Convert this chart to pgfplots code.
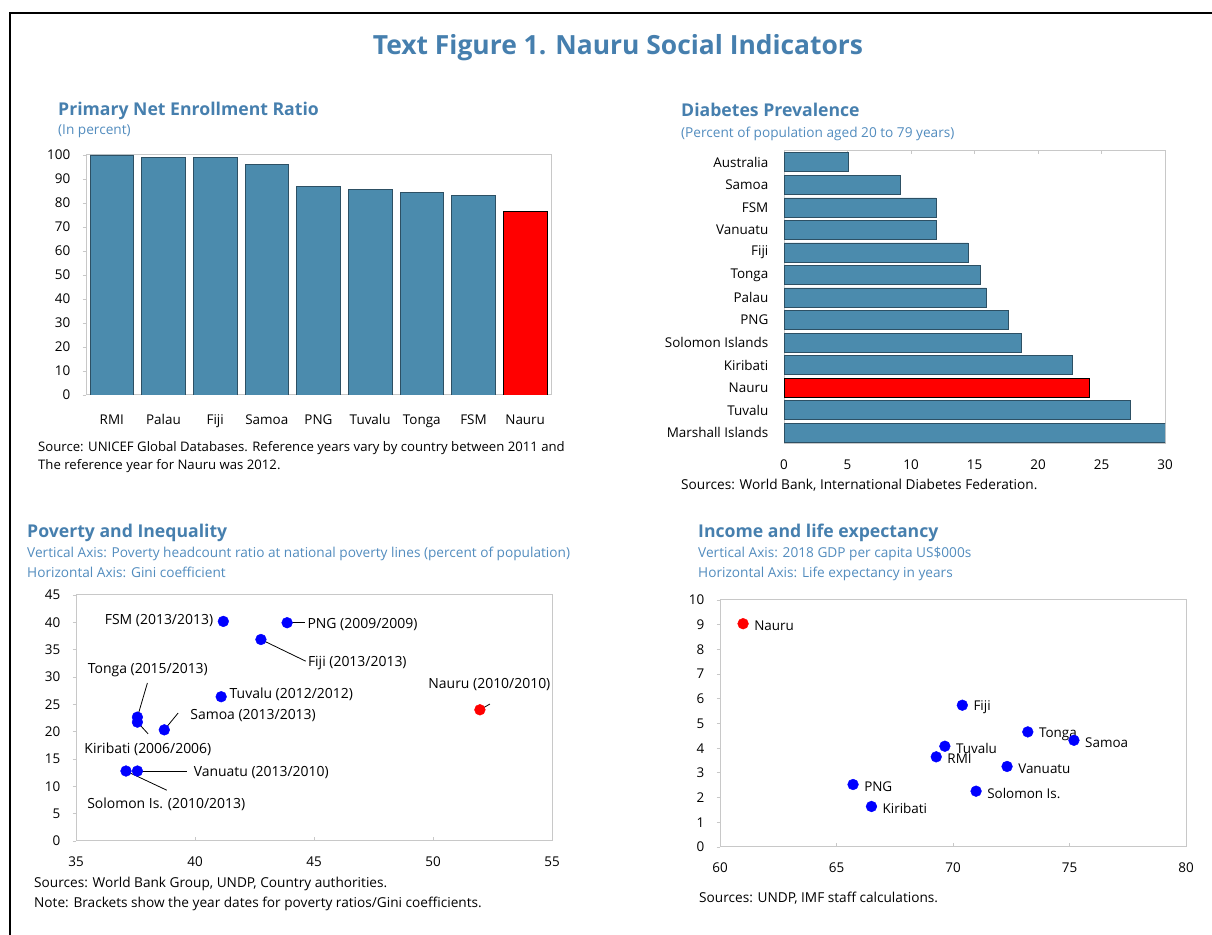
\documentclass[border=0pt]{standalone}
\usepackage{fontspec}
\setmainfont{Open Sans}
\usepackage{pgfplots}
\pgfplotsset{compat=1.18}
\definecolor{barblue}{RGB}{75,139,173}
\definecolor{baredge}{RGB}{45,80,100}
\definecolor{titleblue}{RGB}{70,127,174}
\definecolor{subblue}{RGB}{82,140,190}
\definecolor{framegray}{RGB}{200,200,200}
\newcommand{\ticf}{\fontsize{13.5}{15}\selectfont}
\newcommand{\labf}{\fontsize{14}{16}\selectfont}
\newcommand{\txtf}{\fontsize{13.7}{16}\selectfont}
\newcommand{\srcf}{\fontsize{13.2}{15}\selectfont}
\newcommand{\ptitle}{\fontsize{17.7}{20}\selectfont\bfseries\color{titleblue}}
\pgfplotsset{
  panel/.style={
    scale only axis, anchor=south west,
    axis line style={draw=framegray, line width=1bp},
    tick style={draw=framegray, line width=0.8bp},
    major tick length=3.5bp,
    tick align=outside,
    ytick pos=left,
    tick label style={font=\ticf, inner sep=0pt, text=black},
    yticklabel style={anchor=east, xshift=-12bp},
    xticklabel style={anchor=base, yshift=-26bp},
    /pgf/number format/assume math mode=true,
  }
}
\begin{document}
\begin{tikzpicture}[x=1bp,y=1bp]
\useasboundingbox (0,0) rectangle (1212,935);
\draw[line width=2.2bp] (10,0) -- (10,922) -- (1212,922);
\node[anchor=base, inner sep=0pt, font=\fontsize{26.5}{30}\selectfont\bfseries, text=titleblue] at (618,880) {Text Figure 1. Nauru Social Indicators};

% ---------- Panel 1 ----------
\node[anchor=base west, inner sep=0pt, font=\ptitle] at (58,819) {Primary Net Enrollment Ratio};
\node[anchor=base west, inner sep=0pt, font=\txtf, text=subblue] at (58,800) {(In percent)};
\begin{axis}[panel, at={(86bp,540bp)}, width=465bp, height=240bp,
  xmin=-0.5, xmax=8.5, ymin=0, ymax=100,
  ytick={0,10,...,100},
  xtick={0,...,8}, xticklabels={RMI,Palau,Fiji,Samoa,PNG,Tuvalu,Tonga,FSM,Nauru},
  xtick style={draw=none},
  ybar, bar width=43.5bp, bar shift=0pt]
\addplot[fill=barblue, draw=baredge, line width=0.6bp] coordinates {(0,100)(1,98.9)(2,98.9)(3,96.1)(4,86.9)(5,85.5)(6,84.5)(7,83.2)};
\addplot[fill=red, draw=black, line width=0.6bp] coordinates {(8,76.6)};
\end{axis}
\node[anchor=base west, inner sep=0pt, font=\srcf] at (38,483) {Source: UNICEF Global Databases. Reference years vary by country between 2011 and};
\node[anchor=base west, inner sep=0pt, font=\srcf] at (38,465) {The reference year for Nauru was 2012.};

% ---------- Panel 2 ----------
\node[anchor=base west, inner sep=0pt, font=\ptitle] at (681,818) {Diabetes Prevalence};
\node[anchor=base west, inner sep=0pt, font=\txtf, text=subblue] at (681,797) {(Percent of population aged 20 to 79 years)};
\begin{axis}[panel, at={(784bp,491bp)}, width=381bp, height=293bp,
  xmin=0, xmax=30, ymin=-0.5, ymax=12.5, y dir=reverse,
  ytick={0,...,12},
  yticklabels={Australia,Samoa,FSM,Vanuatu,Fiji,Tonga,Palau,PNG,Solomon Islands,Kiribati,Nauru,Tuvalu,Marshall Islands},
  ytick style={draw=none},
  xtick={0,5,...,30}, xtick pos=upper, xticklabel pos=lower, xtick align=inside,
  xbar, bar width=19bp, bar shift=0pt]
\addplot[fill=barblue, draw=baredge, line width=0.6bp] coordinates {(5.06,0)(9.18,1)(11.97,2)(11.97,3)(14.49,4)(15.44,5)(15.93,6)(17.65,7)(18.67,8)(22.69,9)(27.26,11)(30.5,12)};
\addplot[fill=red, draw=black, line width=0.6bp] coordinates {(24.07,10)};
\end{axis}
\node[anchor=base west, inner sep=0pt, font=\txtf] at (681,445) {Sources: World Bank, International Diabetes Federation.};

% ---------- Panel 3 ----------
\node[anchor=base west, inner sep=0pt, font=\ptitle] at (27,397) {Poverty and Inequality};
\node[anchor=base west, inner sep=0pt, font=\txtf, text=subblue] at (27,377) {Vertical Axis: Poverty headcount ratio at national poverty lines (percent of population)};
\node[anchor=base west, inner sep=0pt, font=\txtf, text=subblue] at (27,357) {Horizontal Axis: Gini coefficient};
\begin{axis}[panel, at={(76bp,94bp)}, width=476bp, height=246bp,
  xmin=35, xmax=55, ymin=0, ymax=45,
  xtick={35,40,...,55}, ytick={0,5,...,45}, xtick pos=lower, xtick align=inside, clip=false]
\addplot[only marks, mark=*, mark size=5.4bp, mark options={fill=blue, draw=blue}] coordinates {
  (41.19,40.17) (43.87,39.93) (42.77,36.86) (41.10,26.39) (38.71,20.33)
  (37.58,22.66) (37.58,21.74) (37.58,12.80) (37.10,12.80)};
\addplot[only marks, mark=*, mark size=5.4bp, mark options={fill=red, draw=red}] coordinates {(51.97,24.0)};
\begin{scope}[every node/.style={inner sep=0pt, font=\labf}]
\draw[line width=0.8bp] (axis cs:43.87,39.93) -- (axis cs:44.62,39.93);
\draw[line width=0.8bp] (axis cs:42.77,36.86) -- (axis cs:44.65,32.9);
\draw[line width=0.8bp] (axis cs:38.71,20.33) -- (axis cs:39.29,23.4);
\draw[line width=0.8bp] (axis cs:37.58,22.66) -- (axis cs:38.0,28.9);
\draw[line width=0.8bp] (axis cs:37.58,21.74) -- (axis cs:38.03,19.6);
\draw[line width=0.8bp] (axis cs:37.58,12.80) -- (axis cs:39.68,12.80);
\draw[line width=0.8bp] (axis cs:37.10,12.80) -- (axis cs:38.81,9.3);
\draw[line width=0.8bp] (axis cs:51.97,24.0) -- (axis cs:52.39,25.05);
\node[anchor=east] at (axis cs:40.77,40.3) {FSM (2013/2013)};
\node[anchor=west] at (axis cs:44.72,39.6) {PNG (2009/2009)};
\node[anchor=west] at (axis cs:44.74,32.6) {Fiji (2013/2013)};
\node[anchor=west] at (axis cs:41.45,26.8) {Tuvalu (2012/2012)};
\node[anchor=west] at (axis cs:39.80,22.9) {Samoa (2013/2013)};
\node at (axis cs:38.02,31.3) {Tonga (2015/2013)};
\node at (axis cs:38.02,16.8) {Kiribati (2006/2006)};
\node[anchor=west] at (axis cs:39.94,12.5) {Vanuatu (2013/2010)};
\node at (axis cs:38.79,6.7) {Solomon Is. (2010/2013)};
\node at (axis cs:52.37,28.7) {Nauru (2010/2010)};
\end{scope}
\end{axis}
\node[anchor=base west, inner sep=0pt, font=\txtf] at (34,47) {Sources: World Bank Group, UNDP, Country authorities.};
\node[anchor=base west, inner sep=0pt, font=\txtf] at (34,27) {Note: Brackets show the year dates for poverty ratios/Gini coefficients.};

% ---------- Panel 4 ----------
\node[anchor=base west, inner sep=0pt, font=\ptitle] at (698,397) {Income and life expectancy};
\node[anchor=base west, inner sep=0pt, font=\txtf, text=subblue] at (698,377) {Vertical Axis: 2018 GDP per capita US\$000s};
\node[anchor=base west, inner sep=0pt, font=\txtf, text=subblue] at (698,357) {Horizontal Axis: Life expectancy in years};
\begin{axis}[panel, at={(720bp,88bp)}, width=466bp, height=247bp,
  xmin=60, xmax=80, ymin=0, ymax=10,
  xtick={60,65,...,80}, ytick={0,1,...,10}, xtick pos=lower, xtick align=inside, clip=false]
\addplot[only marks, mark=*, mark size=5.4bp, mark options={fill=blue, draw=blue}] coordinates {
  (70.40,5.74) (73.21,4.66) (75.19,4.32) (69.65,4.08) (69.28,3.65)
  (72.32,3.26) (65.71,2.53) (70.99,2.26) (66.50,1.64)};
\addplot[only marks, mark=*, mark size=5.4bp, mark options={fill=red, draw=red}] coordinates {(60.99,9.04)};
\begin{scope}[every node/.style={inner sep=0pt, font=\ticf, anchor=west, xshift=11bp, yshift=-2bp}]
\node at (axis cs:60.99,9.04) {Nauru};
\node at (axis cs:70.40,5.74) {Fiji};
\node at (axis cs:73.21,4.66) {Tonga};
\node at (axis cs:75.19,4.32) {Samoa};
\node at (axis cs:69.65,4.08) {Tuvalu};
\node at (axis cs:69.28,3.65) {RMI};
\node at (axis cs:72.32,3.26) {Vanuatu};
\node at (axis cs:65.71,2.53) {PNG};
\node at (axis cs:70.99,2.26) {Solomon Is.};
\node at (axis cs:66.50,1.64) {Kiribati};
\end{scope}
\end{axis}
\node[anchor=base west, inner sep=0pt, font=\txtf] at (699,32) {Sources: UNDP, IMF staff calculations.};
\end{tikzpicture}
\end{document}
